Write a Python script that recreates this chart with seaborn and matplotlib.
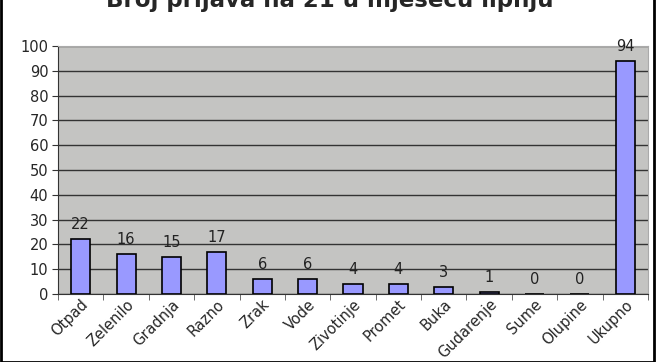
import pandas as pd
import seaborn as sns
import matplotlib.pyplot as plt

# Broj prijava po kategorijama
kategorije = ['Otpad', 'Zelenilo', 'Gradnja', 'Razno', 'Zrak', 'Vode', 'Zivotinje',
              'Promet', 'Buka', 'Gudarenje', 'Sume', 'Olupine', 'Ukupno']
prijave = [22, 16, 15, 17, 6, 6, 4, 4, 3, 1, 0, 0, 94]
y_ticks = list(range(0, 101, 10))

df = pd.DataFrame({'kategorija': kategorije, 'prijave': prijave})

sns.set_style('white')
plt.rcParams['font.family'] = ['DejaVu Sans']

fig = plt.figure(figsize=(6.6, 3.62), dpi=100)
ax = fig.add_axes([58 / 660, 1 - 294 / 362, 590 / 660, 248 / 362])
ax.set_facecolor('#c4c4c2')

sns.barplot(data=df, x='kategorija', y='prijave', color='#9999ff',
            saturation=1, width=0.42, edgecolor='black', linewidth=1.2, ax=ax, zorder=3)
ax.bar_label(ax.containers[0], fontsize=10.5, padding=5, color='#222222')

ax.set_ylim(0, 100)
ax.set_yticks(y_ticks)
ax.set_xlim(-0.5, len(kategorije) - 0.5)
ax.grid(axis='y', color='#333333', linewidth=1, zorder=0)
ax.set_axisbelow(True)
ax.set_xlabel('')
ax.set_ylabel('')
ax.tick_params(axis='y', labelsize=10.5, length=4, left=True, color='#333333', pad=3)
ax.set_xticks([i + 0.5 for i in range(-1, len(kategorije))], minor=True)
ax.tick_params(axis='x', which='minor', length=4, bottom=True, color='#555555')
ax.tick_params(axis='x', which='major', length=0, pad=2)
ax.set_xticks(range(len(kategorije)))
ax.set_xticklabels(kategorije, rotation=45, ha='right', rotation_mode='anchor', fontsize=10.5)
for side in ['top', 'right']:
    ax.spines[side].set_color('#aaaaaa')
for side in ['left', 'bottom']:
    ax.spines[side].set_color('#333333')

# naslov je u izvorniku odrezan pri vrhu
fig.text(0.5, 1 - 7 / 362, 'Broj prijava na 21 u mjesecu lipnju', ha='center', va='baseline',
         fontsize=16.5, fontweight='bold')

# okvir slike
fig.patches.append(plt.Rectangle((1 / 660, 0), 653 / 660, 1.2, transform=fig.transFigure,
                                 fill=False, edgecolor='black', linewidth=2))

fig.savefig('out.png', dpi=100, facecolor='white')
